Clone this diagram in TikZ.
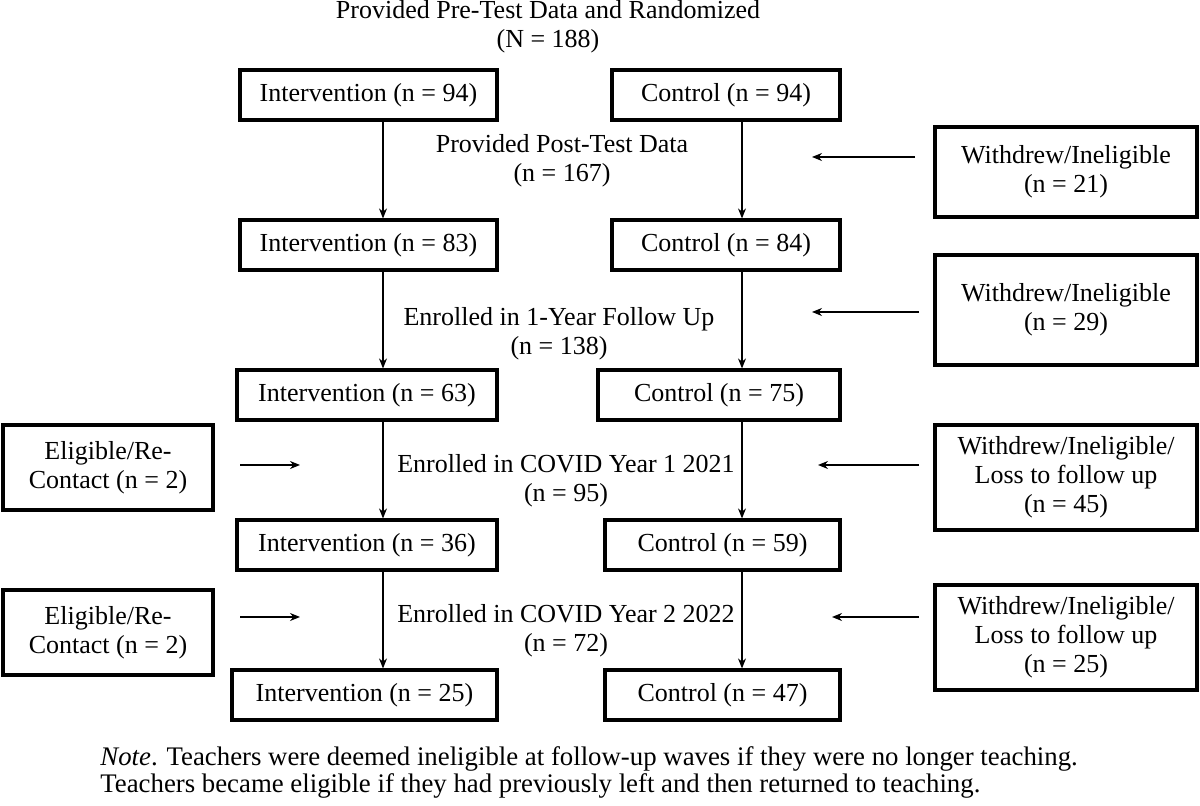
\documentclass[tikz,border=0pt]{standalone}
\usepackage{fontspec}
\setmainfont{Liberation Serif}
\usetikzlibrary{arrows.meta}
\begin{document}
\begin{tikzpicture}[x=0.5pt,y=-0.5pt,
 bx/.style={draw,line width=1.6pt,inner sep=0pt,font=\fontsize{13}{14.5}\selectfont,align=center},
 lb/.style={font=\fontsize{13}{14.5}\selectfont,align=center,inner sep=0pt},
 ar/.style={-{Stealth[length=5pt,width=4pt]},line width=0.6pt}]
\useasboundingbox (0,0) rectangle (1200,806);
\newcommand\bx[6]{\node[bx,minimum width={(#4-#2)*0.5pt},minimum height={(#5-#3)*0.5pt}] (#1) at ({(#2+#4)/2},{(#3+#5)/2}) {#6};}
\bx{i1}{240}{70}{497}{120}{Intervention (n = 94)}
\bx{c1}{612}{70}{840}{120}{Control (n = 94)}
\bx{w1}{935}{127}{1197}{217}{Withdrew/Ineligible\\(n = 21)}
\bx{i2}{240}{220}{497}{270}{Intervention (n = 83)}
\bx{c2}{612}{220}{840}{270}{Control (n = 84)}
\bx{w2}{935}{255}{1197}{365}{Withdrew/Ineligible\\(n = 29)}
\bx{i3}{237}{370}{497}{420}{Intervention (n = 63)}
\bx{c3}{598}{370}{840}{420}{Control (n = 75)}
\bx{e1}{3}{425}{213}{510}{Eligible/Re-\\Contact (n = 2)}
\bx{w3}{935}{425}{1197}{530}{Withdrew/Ineligible/\\Loss to follow up\\(n = 45)}
\bx{i4}{237}{520}{497}{570}{Intervention (n = 36)}
\bx{c4}{605}{520}{840}{570}{Control (n = 59)}
\bx{e2}{3}{590}{213}{675}{Eligible/Re-\\Contact (n = 2)}
\bx{w4}{935}{585}{1197}{690}{Withdrew/Ineligible/\\Loss to follow up\\(n = 25)}
\bx{i5}{232}{670}{497}{720}{Intervention (n = 25)}
\bx{c5}{605}{670}{840}{720}{Control (n = 47)}
\node[lb] (t0) at (548,27) {Provided Pre-Test Data and Randomized\\(N = 188)};
\node[lb] (t1) at (562,161) {Provided Post-Test Data\\(n = 167)};
\node[lb] (t2) at (559,334) {Enrolled in 1-Year Follow Up\\(n = 138)};
\node[lb] (t3) at (566,481) {Enrolled in COVID Year 1 2021\\(n = 95)};
\node[lb] (t4) at (566,631) {Enrolled in COVID Year 2 2022\\(n = 72)};
\foreach \a/\b in {i1/i2,i2/i3,i3/i4,i4/i5}{\draw[ar] (\a.south-|383,0) -- (\b.north-|383,0);}
\foreach \a/\b in {c1/c2,c2/c3,c3/c4,c4/c5}{\draw[ar] (\a.south-|742,0) -- (\b.north-|742,0);}
\coordinate (h1) at (812,157); \coordinate (h2) at (812,312);
\coordinate (h3) at (818,465); \coordinate (h4) at (832,617);
\draw[ar] (915,157) -- (h1);
\draw[ar] (919,312) -- (h2);
\draw[ar] (919,465) -- (h3);
\draw[ar] (919,617) -- (h4);
\coordinate (l1) at (300,465); \coordinate (l2) at (300,617);
\draw[ar] (240,465) -- (l1);
\draw[ar] (240,617) -- (l2);
\node[lb,anchor=west,align=left,font=\fontsize{13.4}{13.5}\selectfont] (note) at (100,772) {\textit{Note}. Teachers were deemed ineligible at follow-up waves if they were no longer teaching.\\Teachers became eligible if they had previously left and then returned to teaching.};
\end{tikzpicture}
\end{document}
